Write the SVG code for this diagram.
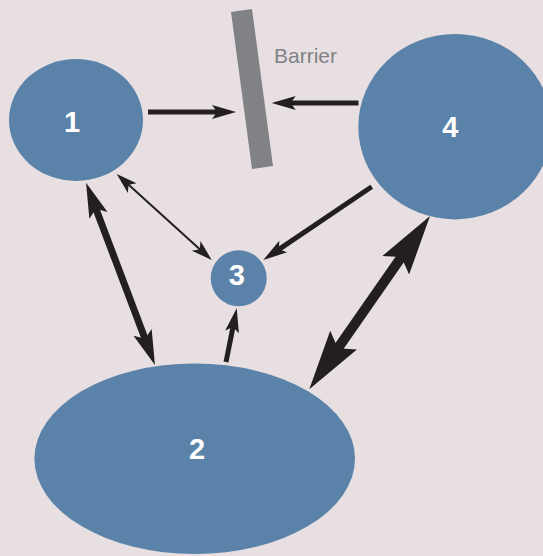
<svg xmlns="http://www.w3.org/2000/svg" width="543" height="556" viewBox="0 0 543 556">
<style>
.node{fill:#5b83a9}
.lbl{font-family:"Liberation Sans",Arial,sans-serif;font-weight:bold;font-size:29px;fill:#ffffff;text-anchor:middle}
.conn{stroke:#231f20;fill:none;stroke-linecap:butt}
.head{fill:#231f20}
</style>
<defs>
<marker id="hS" markerUnits="userSpaceOnUse" orient="auto-start-reverse" refX="6" refY="0" markerWidth="30" markerHeight="20" viewBox="0 -10 30 20" overflow="visible"><path class="head" d="M0,-6.5 L21,0 L0,6.5 L5,0 Z"/></marker>
<marker id="hM" markerUnits="userSpaceOnUse" orient="auto-start-reverse" refX="6" refY="0" markerWidth="30" markerHeight="20" viewBox="0 -10 30 20" overflow="visible"><path class="head" d="M0,-7 L24,0 L0,7 L5,0 Z"/></marker>
<marker id="hL" markerUnits="userSpaceOnUse" orient="auto-start-reverse" refX="8" refY="0" markerWidth="40" markerHeight="24" viewBox="0 -12 40 24" overflow="visible"><path class="head" d="M0,-9.7 L35,0 L0,9.7 L7,0 Z"/></marker>
<marker id="hXL" markerUnits="userSpaceOnUse" orient="auto-start-reverse" refX="11" refY="0" markerWidth="64" markerHeight="36" viewBox="0 -18 64 36" overflow="visible"><path class="head" d="M0,-16.3 L60,0 L0,16.3 L10,0 Z"/></marker>
</defs>
<rect x="0" y="0" width="543" height="556" fill="#e7dfe1"/>
<g id="barrier">
<polygon points="231,12 252,9 273,166 252,169" fill="#808285"/>
<text x="274" y="62.7" font-family="'Liberation Sans',Arial,sans-serif" font-size="21" fill="#808285">Barrier</text>
</g>
<g id="connectors">
<path class="conn" stroke-width="5" d="M148,112 L218,112" marker-end="url(#hM)"/>
<path class="conn" stroke-width="5" d="M358.5,103 L289.7,103" marker-end="url(#hM)"/>
<path class="conn" stroke-width="5" d="M371.7,186.7 L278.2,249.9" marker-end="url(#hM)"/>
<path class="conn" stroke-width="5" d="M226,362 L233.2,325.9" marker-end="url(#hM)"/>
<path class="conn" stroke-width="2" d="M127.8,184.1 L200.6,249.9" marker-start="url(#hS)" marker-end="url(#hS)"/>
<path class="conn" stroke-width="7" d="M95.6,207.9 L145.4,339.8" marker-start="url(#hL)" marker-end="url(#hL)"/>
<path class="conn" stroke-width="10" d="M402,256.2 L337.3,349.1" marker-start="url(#hXL)" marker-end="url(#hXL)"/>
</g>
<g id="node1">
<ellipse class="node" cx="76" cy="120" rx="67" ry="61"/>
<text class="lbl" x="72" y="131.7">1</text>
</g>
<g id="node2">
<ellipse class="node" cx="194.7" cy="458.7" rx="160.3" ry="95.3"/>
<text class="lbl" x="197" y="459.3">2</text>
</g>
<g id="node3">
<circle class="node" cx="238.7" cy="278.3" r="28"/>
<text class="lbl" x="236.7" y="285">3</text>
</g>
<g id="node4">
<ellipse class="node" cx="455" cy="126.7" rx="96.7" ry="92.7"/>
<text class="lbl" x="450.3" y="137.3">4</text>
</g>
</svg>
